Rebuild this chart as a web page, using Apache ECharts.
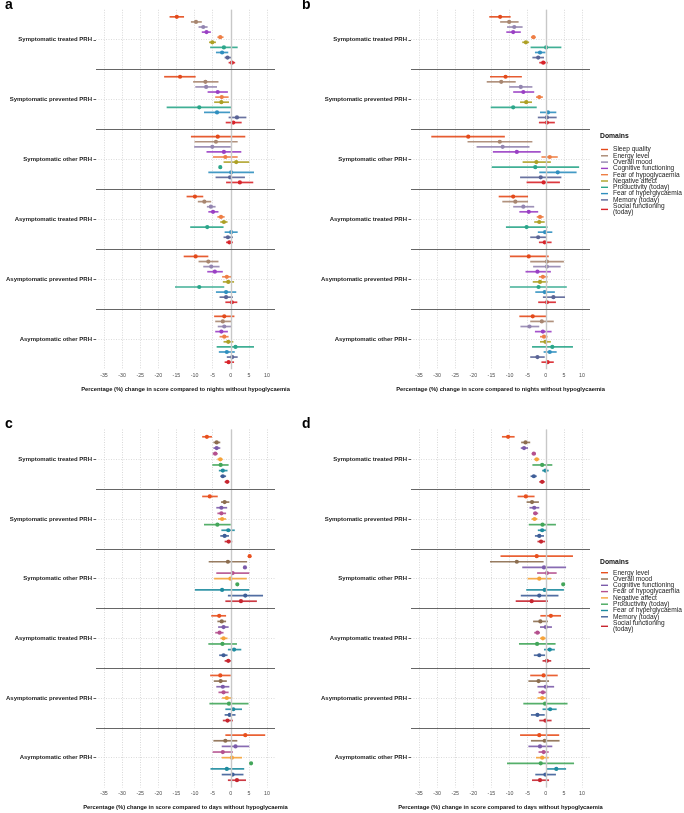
<!DOCTYPE html>
<html><head><meta charset="utf-8">
<script src="https://cdn.jsdelivr.net/npm/echarts@6/dist/echarts.min.js"></script>
<style>html,body{margin:0;padding:0;background:#fff}#c{width:684px;height:813px}</style>
</head><body><div id="c"></div><script>
const groups = ['Symptomatic treated PRH','Symptomatic prevented PRH','Symptomatic other PRH','Asymptomatic treated PRH','Asymptomatic prevented PRH','Asymptomatic other PRH'];
const domainsAB = ['Sleep quality','Energy level','Overall mood','Cognitive functioning','Fear of hypoglycaemia','Negative affect','Productivity (today)','Fear of hyperglycaemia','Memory (today)','Social functioning\n(today)'];
const domainsCD = ['Energy level','Overall mood','Cognitive functioning','Fear of hypoglycaemia','Negative affect','Productivity (today)','Fear of hyperglycaemia','Memory (today)','Social functioning\n(today)'];
const colorsAB = ['#E34A1B','#A88670','#9385B0','#9A40C4','#EE7E45','#ADA024','#2BA68A','#2F8FBF','#5A6496','#D8232A'];
const colorsCD = ['#E8501E','#8C6D4F','#7B5BAA','#B4508E','#F5A33A','#43A65A','#1E8B9F','#3E5E98','#C72630'];
const xTickLabels = ['-35','-30','-25','-20','-15','-10','-5','0','5','10'];

// rows = groups, columns = domains
const aEst = [
 [-14.9,-9.6,-7.6,-6.7,-2.9,-5.1,-1.9,-2.4,-0.9,0.3],
 [-14.0,-7.0,-6.8,-3.6,-2.5,-2.6,-8.7,-3.8,1.7,0.7],
 [-3.6,-4.1,-5.1,-1.9,-1.5,1.5,-2.9,0.1,-0.2,2.5],
 [-9.9,-7.3,-5.5,-4.9,-2.7,-1.9,-6.5,0.1,-0.8,-0.4],
 [-9.7,-6.2,-5.4,-4.4,-1.1,-0.7,-8.7,-1.3,-1.3,0.3],
 [-1.8,-2.2,-1.8,-2.6,-1.8,-0.7,1.3,-1.1,0.4,-0.6]];
const aLow = [
 [-16.9,-11.0,-8.9,-8.0,-3.7,-6.0,-5.7,-4.1,-1.7,-0.6],
 [-18.4,-10.4,-9.8,-6.4,-4.3,-4.6,-17.7,-7.4,-0.6,-1.4],
 [-11.0,-10.0,-10.1,-6.7,-4.9,-2.0,-2.9,-6.2,-4.2,-1.3],
 [-12.2,-9.1,-6.6,-6.2,-3.7,-2.9,-11.2,-1.7,-2.0,-1.3],
 [-13.0,-8.9,-7.6,-6.5,-2.4,-2.2,-15.4,-4.1,-3.1,-1.5],
 [-4.6,-4.3,-3.6,-4.3,-3.1,-2.0,-3.9,-3.3,-1.1,-1.7]];
const aHigh = [
 [-12.9,-8.0,-6.4,-5.5,-2.0,-4.1,1.9,-0.7,0.3,1.2],
 [-9.7,-3.4,-3.8,-0.8,-0.6,-0.5,0.3,-0.2,4.3,3.0],
 [4.0,1.9,0.0,2.9,1.9,5.1,-2.9,6.4,3.9,6.2],
 [-7.6,-5.4,-4.2,-3.4,-1.7,-0.9,-2.0,1.9,0.6,0.6],
 [-6.2,-3.4,-3.1,-2.2,0.3,0.9,-1.8,1.5,0.6,1.8],
 [1.0,0.1,0.1,-0.8,-0.6,0.7,6.4,1.1,1.9,0.9]];

const bEst = [
 [-12.6,-10.1,-8.7,-9.0,-3.4,-5.5,0.1,-1.6,-2.1,-0.7],
 [-11.1,-12.3,-6.9,-6.2,-1.8,-5.4,-9.0,0.6,0.3,0.3],
 [-21.4,-12.7,-11.9,-8.0,1.1,-2.6,-2.9,3.3,-1.4,-0.6],
 [-9.0,-8.4,-6.2,-4.7,-1.6,-1.8,-5.3,-0.2,-2.1,-0.3],
 [-4.7,0.3,0.3,-2.3,-0.8,-1.6,-2.0,-0.3,2.1,0.3],
 [-3.6,-1.1,-4.5,-0.8,-0.5,-0.1,1.8,1.1,-2.3,0.5]];
const bLow = [
 [-15.6,-12.6,-10.7,-10.9,-4.1,-6.5,-4.2,-3.0,-3.7,-1.8],
 [-15.4,-16.3,-10.1,-9.0,-2.7,-7.1,-15.2,-1.6,-2.2,-1.9],
 [-31.6,-21.6,-19.1,-14.6,-1.2,-6.4,-14.9,-1.8,-7.1,-5.3],
 [-13.0,-12.0,-9.0,-7.3,-2.5,-3.2,-11.0,-2.2,-4.3,-1.9],
 [-9.9,-4.3,-3.5,-5.6,-1.9,-3.6,-9.9,-2.9,-0.8,-2.1],
 [-7.3,-4.3,-7.0,-3.0,-1.6,-1.6,-3.8,-0.6,-4.3,-1.2]];
const bHigh = [
 [-9.7,-7.5,-6.4,-6.9,-2.8,-4.6,4.3,-0.1,-0.5,0.5],
 [-6.6,-8.3,-3.7,-3.2,-0.8,-3.8,-2.5,2.9,3.0,2.5],
 [-11.3,-3.7,-4.5,-1.4,3.3,1.4,9.2,8.5,4.3,3.9],
 [-4.9,-4.9,-3.2,-2.1,-0.6,-0.3,0.5,1.8,0.1,1.6],
 [0.8,5.0,4.1,1.4,0.5,0.5,5.8,2.5,5.3,2.8],
 [0.1,2.2,-1.8,1.6,0.5,1.4,7.5,3.0,-0.3,2.2]];

const cEst = [
 [-6.6,-3.9,-3.9,-4.3,-2.9,-2.8,-2.2,-2.2,-1.0],
 [-5.8,-1.7,-2.6,-2.6,-2.4,-3.7,-0.7,-1.7,-0.6],
 [5.2,-0.8,3.9,0.5,-0.1,1.8,-2.4,4.0,2.8],
 [-3.2,-2.5,-2.0,-3.1,-2.0,-2.3,0.9,-2.0,-0.7],
 [-2.9,-2.8,-2.2,-2.0,-1.1,-0.5,0.7,-0.3,-0.9],
 [4.0,-1.5,1.3,-2.2,0.3,5.6,-1.1,0.5,1.7]];
const cLow = [
 [-7.9,-4.8,-4.8,-5.0,-3.7,-5.1,-3.3,-2.9,-1.7],
 [-7.9,-2.7,-4.0,-3.7,-3.5,-7.4,-2.6,-2.9,-1.7],
 [5.2,-6.1,3.9,-4.0,-4.6,1.8,-9.9,-0.8,-1.5],
 [-5.4,-3.7,-3.5,-4.3,-2.9,-6.2,-0.8,-3.2,-1.7],
 [-5.7,-4.7,-4.0,-3.4,-2.4,-5.9,-1.5,-1.7,-2.2],
 [-1.5,-4.8,-2.5,-5.0,-2.5,5.6,-5.6,-2.5,-0.8]];
const cHigh = [
 [-5.2,-2.9,-2.9,-3.6,-2.2,-0.6,-0.9,-1.3,-0.4],
 [-3.6,-0.4,-1.0,-1.3,-1.3,0.0,1.1,-0.5,0.4],
 [5.2,4.5,3.9,5.1,4.4,1.8,5.1,8.9,7.2],
 [-1.3,-1.3,-0.6,-2.0,-0.9,1.7,2.9,-0.9,0.3],
 [0.0,-1.1,-0.4,-0.6,0.4,4.9,3.1,1.3,0.6],
 [9.5,1.8,5.1,0.6,3.1,5.6,3.7,3.5,4.2]];

const dEst = [
 [-10.4,-5.6,-6.0,-3.3,-2.5,-1.0,-0.1,-3.3,-1.0],
 [-5.5,-3.8,-3.2,-2.9,-3.1,-0.9,-1.0,-1.8,-1.3],
 [-2.5,-8.0,-0.5,0.3,-1.8,4.8,-0.3,-1.8,-3.9],
 [1.4,-1.5,0.0,-2.3,-0.8,-2.4,1.1,-1.8,0.3],
 [-0.6,-2.0,0.0,-0.8,-1.0,-0.2,1.2,-2.3,-0.1],
 [-1.8,-0.3,-1.6,-0.6,-1.0,-1.4,2.9,-0.1,-1.6]];
const dLow = [
 [-12.1,-6.8,-6.9,-3.9,-3.2,-3.7,-1.0,-4.2,-1.8],
 [-7.8,-5.3,-4.5,-3.5,-3.9,-4.7,-2.2,-3.0,-2.3],
 [-12.5,-15.4,-6.5,-2.4,-5.0,4.8,-5.4,-6.9,-8.3],
 [-1.5,-3.5,-1.6,-3.2,-1.6,-7.4,-0.5,-3.3,-0.9],
 [-4.3,-4.8,-2.3,-2.0,-2.3,-6.2,-0.9,-4.1,-1.8],
 [-7.1,-4.1,-4.8,-2.0,-2.7,-10.7,0.1,-2.9,-3.8]];
const dHigh = [
 [-8.6,-4.3,-4.9,-2.7,-1.8,1.8,0.8,-2.5,-0.3],
 [-3.1,-1.9,-1.8,-2.1,-2.3,2.8,0.3,-0.5,-0.2],
 [7.5,-0.6,5.6,3.0,1.5,4.8,5.0,3.5,0.6],
 [4.2,0.6,1.7,-1.6,0.0,2.7,2.5,-0.2,1.5],
 [3.3,0.9,2.3,0.3,0.3,6.0,3.0,-0.3,1.6],
 [3.7,3.8,1.8,0.8,0.8,7.8,5.6,2.8,0.9]];

const FONT = '"Liberation Sans", Arial, Helvetica, sans-serif';
const panels = [
  {letter:'a', est:aEst, low:aLow, high:aHigh, domains:domainsAB, colors:colorsAB, left:96, top:9.8, height:359.4, xname:'Percentage (%) change in score compared to nights without hypoglycaemia'},
  {letter:'b', est:bEst, low:bLow, high:bHigh, domains:domainsAB, colors:colorsAB, left:411, top:9.8, height:359.4, xname:'Percentage (%) change in score compared to nights without hypoglycaemia'},
  {letter:'c', est:cEst, low:cLow, high:cHigh, domains:domainsCD, colors:colorsCD, left:96, top:429.5, height:358, xname:'Percentage (%) change in score compared to days without hypoglycaemia'},
  {letter:'d', est:dEst, low:dLow, high:dHigh, domains:domainsCD, colors:colorsCD, left:411, top:429.5, height:358, xname:'Percentage (%) change in score compared to days without hypoglycaemia'}
];

function renderItem(params, api) {
  const y = api.value(3);
  const p0 = api.coord([api.value(1), y]);
  const p1 = api.coord([api.value(2), y]);
  const pc = api.coord([api.value(0), y]);
  const color = api.visual('color');
  return {type:'group', children:[
    {type:'line', shape:{x1:p0[0], y1:p0[1], x2:p1[0], y2:p1[1]}, style:{stroke:color, lineWidth:1.7, opacity:0.9}},
    {type:'circle', shape:{cx:pc[0], cy:pc[1], r:2.1}, style:{fill:color}}
  ]};
}

const grid = [], xAxis = [], yAxis = [], series = [], title = [];
panels.forEach((p, i) => {
  grid.push({left:p.left, top:p.top, width:179, height:p.height});
  xAxis.push({
    type:'value', gridIndex:i, min:-37.2, max:12.2, splitNumber:10, minInterval:5, maxInterval:5,
    axisLine:{show:false}, axisTick:{show:false},
    axisLabel:{fontSize:5.3, color:'#4d4d4d', margin:3.5, fontFamily:FONT, showMinLabel:false, showMaxLabel:false,
      formatter: v => { const s = String(Math.round(v)); return xTickLabels.includes(s) ? s : ''; }},
    splitLine:{show:true, showMinLine:false, showMaxLine:false, lineStyle:{color:'#cfcfcf', type:[1,1.5], width:0.8}},
    name:p.xname, nameLocation:'middle', nameGap:17,
    nameTextStyle:{fontSize:5.8, fontWeight:'bold', color:'#111', fontFamily:FONT}
  });
  yAxis.push({
    type:'value', gridIndex:i, position:'right', min:-0.5, max:5.5, inverse:true, splitNumber:6, minInterval:1, maxInterval:1,
    axisLine:{show:false}, axisTick:{show:false}, axisLabel:{show:false},
    splitLine:{show:true, showMinLine:false, showMaxLine:false, lineStyle:{color:'#d2d2d2', type:[1,1.5], width:0.8}}
  });
  yAxis.push({
    type:'category', gridIndex:i, position:'left', data:groups, inverse:true, boundaryGap:true,
    axisLine:{show:false}, axisTick:{show:true, alignWithLabel:true, length:2.5, lineStyle:{color:'#333', width:0.8}},
    axisLabel:{fontSize:6, fontWeight:'bold', color:'#1a1a1a', margin:4, fontFamily:FONT},
    splitLine:{show:false}
  });
  series.push({
    type:'line', xAxisIndex:i, yAxisIndex:2*i, data:[], z:1, silent:true,
    markLine:{silent:true, symbol:'none', label:{show:false}, animation:false,
      data:[
        {xAxis:0, lineStyle:{color:'#c8c8c8', width:1.4, type:'solid'}},
        ...[0.5,1.5,2.5,3.5,4.5].map(v => ({yAxis:v, lineStyle:{color:'#666', width:1, type:'solid'}}))
      ]}
  });
  const n = p.domains.length;
  p.domains.forEach((d, k) => {
    const data = groups.map((g, gi) => [p.est[gi][k], p.low[gi][k], p.high[gi][k], gi + (k - (n - 1) / 2) * 0.85 / n]);
    series.push({
      type:'custom', name:d, xAxisIndex:i, yAxisIndex:2*i, z:3,
      itemStyle:{color:p.colors[k]}, renderItem:renderItem,
      encode:{x:[0,1,2], y:3}, data:data, animation:false
    });
  });
  title.push({text:p.letter, left:p.left - (i % 2 === 0 ? 91 : 109), top:p.top - 12, textStyle:{fontSize:14, fontWeight:'bold', color:'#000', fontFamily:FONT}, padding:0});
});
title.push({text:'Domains', left:600, top:132.5, padding:0, textStyle:{fontSize:6.8, fontWeight:'bold', color:'#111', fontFamily:FONT}});
title.push({text:'Domains', left:600, top:558.5, padding:0, textStyle:{fontSize:6.8, fontWeight:'bold', color:'#111', fontFamily:FONT}});

function legendFor(domains, colors, top) {
  return {
    orient:'vertical', left:601, top:top, padding:0, itemGap:-0.7, itemWidth:7, itemHeight:1.4, icon:'rect',
    selectedMode:false,
    textStyle:{fontSize:6.6, lineHeight:6.4, color:'#222', fontFamily:FONT},
    data: domains.map((d, k) => ({name:d, itemStyle:{color:colors[k]}}))
  };
}

const chart = echarts.init(document.getElementById('c'), null, {renderer:'canvas'});
chart.setOption({
  animation:false, backgroundColor:'#fff',
  title, grid, xAxis, yAxis, series,
  legend:[legendFor(domainsAB, colorsAB, 146), legendFor(domainsCD, colorsCD, 569.2)]
});
</script></body></html>
